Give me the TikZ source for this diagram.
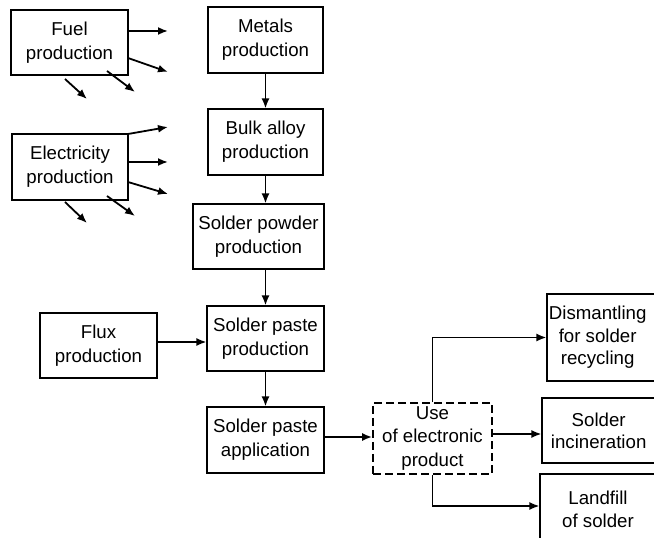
\documentclass[tikz,border=0pt]{standalone}
\usepackage{fontspec}
\setmainfont{Liberation Sans}
\usetikzlibrary{arrows.meta}
\begin{document}
\begin{tikzpicture}[x=0.75pt,y=-0.75pt,
  box/.style={draw,line width=0.8pt,align=center,inner sep=0pt,
    font=\fontsize{14}{18}\selectfont},
  usebox/.style={box,dashed,line width=1.3pt,dash pattern=on 6pt off 3pt},
  arr/.style={line width=1.35pt,-{Latex[length=7.5pt,width=6pt]}}]
\clip (0,0) rectangle (654,538);
\fill[white] (0,0) rectangle (654,538);
% boxes
\node[box,minimum width=117*0.75pt,minimum height=65*0.75pt] (fuel) at (69.5,42.5) {Fuel\\production};
\node[box,minimum width=116*0.75pt,minimum height=66*0.75pt] (elec) at (70,167) {Electricity\\production};
\node[box,minimum width=115*0.75pt,minimum height=66*0.75pt] (metals) at (265.5,40) {Metals\\production};
\node[box,minimum width=115*0.75pt,minimum height=66*0.75pt] (bulk) at (265.5,142) {Bulk alloy\\production};
\node[box,minimum width=131*0.75pt,minimum height=65*0.75pt] (powder) at (258.5,236.5) {Solder powder\\production};
\node[box,minimum width=117*0.75pt,minimum height=65*0.75pt] (paste) at (265.5,338.5) {Solder paste\\production};
\node[box,minimum width=117*0.75pt,minimum height=66*0.75pt] (appl) at (265.5,440) {Solder paste\\application};
\node[box,minimum width=117*0.75pt,minimum height=65*0.75pt] (flux) at (98.5,345.5) {Flux\\production};
\node[usebox,minimum width=119*0.75pt,minimum height=71*0.75pt,
  font=\fontsize{14}{17.5}\selectfont] (use) at (432.5,438.5) {Use\\of electronic\\product};
\node[box,minimum width=120*0.75pt,minimum height=87*0.75pt,
  font=\fontsize{14}{17}\selectfont] (dism) at (607,337.5) {\hspace*{-14pt}Dismantling\\\hspace*{-14pt}for solder\\\hspace*{-14pt}recycling};
\node[box,minimum width=120*0.75pt,minimum height=65*0.75pt,
  font=\fontsize{14}{16.5}\selectfont] (incin) at (602,430.5) {\hspace*{-5pt}Solder\\\hspace*{-5pt}incineration};
\node[box,minimum width=120*0.75pt,minimum height=70*0.75pt,
  font=\fontsize{14}{17}\selectfont] (land) at (600,509) {\hspace*{-3pt}Landfill\\\hspace*{-3pt}of solder};
% free arrow ends
\coordinate (f1) at (168,31);
\coordinate (f2s) at (128,58);  \coordinate (f2) at (168,72);
\coordinate (f3s) at (65,79);   \coordinate (f3) at (87,99);
\coordinate (f4s) at (107,71);  \coordinate (f4) at (135,92);
\coordinate (e1s) at (128,134); \coordinate (e1) at (168,127);
\coordinate (e2) at (168,162);
\coordinate (e3s) at (128,182); \coordinate (e3) at (168,194);
\coordinate (e4s) at (65,202);  \coordinate (e4) at (87,223);
\coordinate (e5s) at (107,196); \coordinate (e5) at (135,216);
\draw[arr] (fuel.east |- f1) -- (f1);
\draw[arr] (f2s) -- (f2);
\draw[arr] (f3s) -- (f3);
\draw[arr] (f4s) -- (f4);
\draw[arr] (e1s) -- (e1);
\draw[arr] (elec.east |- e2) -- (e2);
\draw[arr] (e3s) -- (e3);
\draw[arr] (e4s) -- (e4);
\draw[arr] (e5s) -- (e5);
% main chain
\draw[arr] (metals.south) -- (bulk.north);
\draw[arr] (bulk.south) -- (bulk.south |- powder.north);
\draw[arr] (paste.north |- powder.south) -- (paste.north);
\draw[arr] (paste.south) -- (appl.north);
\draw[arr] (flux.east |- 0,342) -- (paste.west |- 0,342);
\draw[arr] (appl.east |- 0,437) -- (use.west |- 0,437);
\draw[arr] (use.north) |- (dism.west);
\draw[arr] (use.east |- 0,434) -- (incin.west |- 0,434);
\draw[arr] (use.south) |- (land.west |- 0,506);
\end{tikzpicture}
\end{document}
